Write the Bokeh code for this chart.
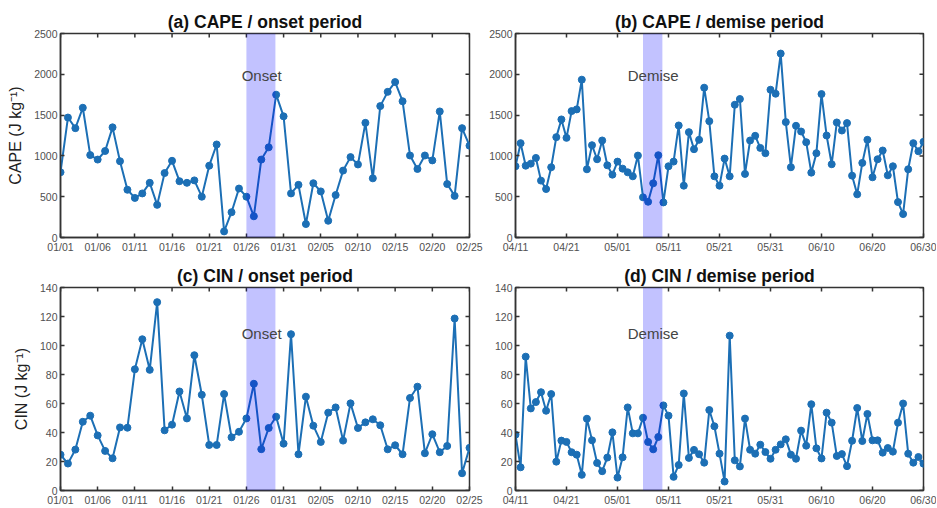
import math
from bokeh.plotting import figure
from bokeh.layouts import column, row
from bokeh.models import FixedTicker, Range1d, BoxAnnotation, Label
from bokeh.embed import file_html
from bokeh.resources import INLINE

# ---------------- data ----------------
onset_tick_labels = ["01/01", "01/06", "01/11", "01/16", "01/21", "01/26",
                     "01/31", "02/05", "02/10", "02/15", "02/20", "02/25"]
demise_tick_labels = ["04/11", "04/21", "05/01", "05/11", "05/21",
                      "05/31", "06/10", "06/20", "06/30"]

cape_onset = [800, 1470, 1340, 1590, 1010, 955, 1060, 1350, 935, 585,
              485, 540, 670, 400, 790, 940, 690, 670, 700, 500,
              880, 1140, 75, 310, 600, 500, 260, 955, 1105, 1750,
              1485, 540, 645, 165, 665, 565, 205, 520, 820, 985,
              895, 1405, 725, 1610, 1785, 1905, 1670, 1005, 840, 1005,
              945, 1545, 655, 510, 1340, 1125]

cin_onset = [24.7, 18.6, 28.2, 47.4, 51.6, 38.0, 27.3, 22.2, 43.5, 43.3,
             83.6, 104.3, 83.2, 129.9, 41.5, 45.4, 68.3, 49.7, 93.3, 66.0,
             31.4, 31.4, 66.5, 36.7, 40.5, 49.7, 73.6, 28.5, 43.1, 50.9,
             32.3, 107.8, 25.0, 64.7, 44.7, 33.5, 53.7, 57.3, 34.4, 60.1,
             43.1, 47.0, 49.1, 45.0, 28.4, 31.2, 25.0, 63.8, 71.6, 25.7,
             38.8, 26.4, 30.7, 118.6, 11.9, 29.4]

cape_demise = [873, 1156, 880, 905, 975, 697, 594, 861, 1230, 1447,
               1221, 1549, 1570, 1934, 836, 1131, 959, 1189, 885, 770,
               930, 844, 799, 750, 1004, 492, 438, 664, 1008, 430,
               873, 930, 1373, 635, 1291, 1082, 1197, 1836, 1426, 750,
               635, 967, 750, 1627, 1697, 779, 1189, 1246, 1098, 1033,
               1811, 1762, 2254, 1414, 861, 1369, 1299, 1168, 795, 1033,
               1758, 1250, 898, 1410, 1311, 1402, 758, 529, 914, 1197,
               738, 959, 1066, 762, 873, 434, 287, 836, 1156, 1057,
               1172]

cin_demise = [38.5, 16.0, 92.3, 56.6, 61.0, 67.8, 55.0, 66.5, 19.9, 34.4,
              33.5, 26.4, 24.7, 10.8, 49.5, 34.6, 19.0, 13.3, 22.7, 40.1,
              8.9, 22.9, 57.3, 39.4, 39.4, 50.2, 33.5, 28.4, 36.9, 58.7,
              51.6, 9.4, 17.6, 66.9, 22.5, 28.0, 25.0, 19.2, 55.5, 44.3,
              25.4, 6.2, 106.8, 20.8, 16.6, 49.6, 28.1, 25.4, 31.6, 26.5,
              21.9, 28.1, 31.8, 35.3, 24.7, 21.9, 41.3, 30.9, 59.5, 29.1,
              22.1, 53.7, 46.8, 23.8, 25.1, 16.8, 34.3, 56.9, 34.1, 52.8,
              34.6, 34.6, 26.1, 29.3, 26.8, 46.8, 60.0, 25.4, 19.2, 23.1,
              18.5]

onset_tick_step = 5      # days between date ticks
demise_tick_step = 10
onset_period = (25, 28.9)    # shaded window (day index)
demise_period = (25, 28.8)

cape_ticks = [0, 500, 1000, 1500, 2000, 2500]
cin_ticks = [0, 20, 40, 60, 80, 100, 120, 140]

# ---------------- style ----------------
LINE = "#1c6fb5"
AX = "#333333"
TICKC = "#505050"
FONT = "Liberation Sans"


def style_axis(ax, ticks, overrides=None):
    ax.ticker = FixedTicker(ticks=ticks)
    if overrides:
        ax.major_label_overrides = overrides
    ax.major_tick_in = 4
    ax.major_tick_out = 0
    ax.minor_tick_line_color = None
    ax.axis_line_color = AX
    ax.axis_line_width = 1.5
    ax.major_tick_line_color = AX
    ax.major_tick_line_width = 1.5
    ax.major_label_text_font = FONT
    ax.major_label_text_color = TICKC
    ax.major_label_text_font_size = "10.5px"
    ax.major_label_standoff = 3


def panel(title, yvals, tick_labels, tick_step, yticks, ylabel, period,
          ptext, ptext_y, fw, fh, bl, br, bt, bb):
    n = len(yvals)
    xs = list(range(n))
    xt = [i * tick_step for i in range(len(tick_labels))]
    over = {t: lab for t, lab in zip(xt, tick_labels)}
    p = figure(frame_width=fw, frame_height=fh, output_backend="svg",
               toolbar_location=None, x_range=Range1d(0, n - 1),
               y_range=Range1d(yticks[0], yticks[-1]),
               min_border_left=bl, min_border_right=br,
               min_border_top=bt, min_border_bottom=bb,
               background_fill_color="white", border_fill_color="white")
    p.grid.visible = False
    p.outline_line_color = AX
    p.outline_line_width = 1.5
    p.title.text = title
    p.title.align = "center"
    p.title.text_font = FONT
    p.title.text_font_size = "17.5px"
    p.title.text_font_style = "bold"
    p.title.text_color = "#111111"
    p.title.standoff = 3

    style_axis(p.xaxis[0], xt, over)
    style_axis(p.yaxis[0], yticks)
    if ylabel:
        p.yaxis[0].axis_label = ylabel
        p.yaxis[0].axis_label_text_font = FONT
        p.yaxis[0].axis_label_text_font_size = "16px"
        p.yaxis[0].axis_label_text_font_style = "normal"
        p.yaxis[0].axis_label_text_color = "#222222"
        p.yaxis[0].axis_label_standoff = 7

    # mirrored inward ticks on the top and right edges of the box
    p.scatter(xt, [yticks[-1]] * len(xt), marker="dash", angle=math.pi / 2,
              size=8, line_color=AX, line_width=1.5)
    p.scatter([n - 1] * len(yticks), yticks, marker="dash",
              size=8, line_color=AX, line_width=1.5)

    p.line(xs, yvals, line_color=LINE, line_width=2)
    p.scatter(xs, yvals, size=7, fill_color=LINE, line_color=LINE)

    p.add_layout(BoxAnnotation(left=period[0], right=period[1],
                               fill_color="#0000ff", fill_alpha=0.24,
                               line_color=None))
    p.add_layout(Label(x=(period[0] + period[1]) / 2 + 0.1, y=ptext_y,
                       text=ptext, text_align="center",
                       text_baseline="middle", text_font=FONT,
                       text_font_size="15px", text_color="#444444"))
    return p


pa = panel("(a) CAPE / onset period", cape_onset, onset_tick_labels,
           onset_tick_step, cape_ticks, "CAPE (J kg\u207b\u00b9)",
           onset_period, "Onset", 1990, 409, 204, 60, 16, 33, 17)
pb = panel("(b) CAPE / demise period", cape_demise, demise_tick_labels,
           demise_tick_step, cape_ticks, None,
           demise_period, "Demise", 1990, 408, 204, 30, 13, 33, 17)
pc = panel("(c) CIN / onset period", cin_onset, onset_tick_labels,
           onset_tick_step, cin_ticks, "CIN (J kg\u207b\u00b9)",
           onset_period, "Onset", 108, 409, 203, 60, 16, 32, 17)
pd = panel("(d) CIN / demise period", cin_demise, demise_tick_labels,
           demise_tick_step, cin_ticks, None,
           demise_period, "Demise", 108, 408, 203, 30, 13, 32, 17)

layout = column(row(pa, pb), row(pc, pd))

html = file_html(layout, INLINE)
open("out.html", "w").write(html)
